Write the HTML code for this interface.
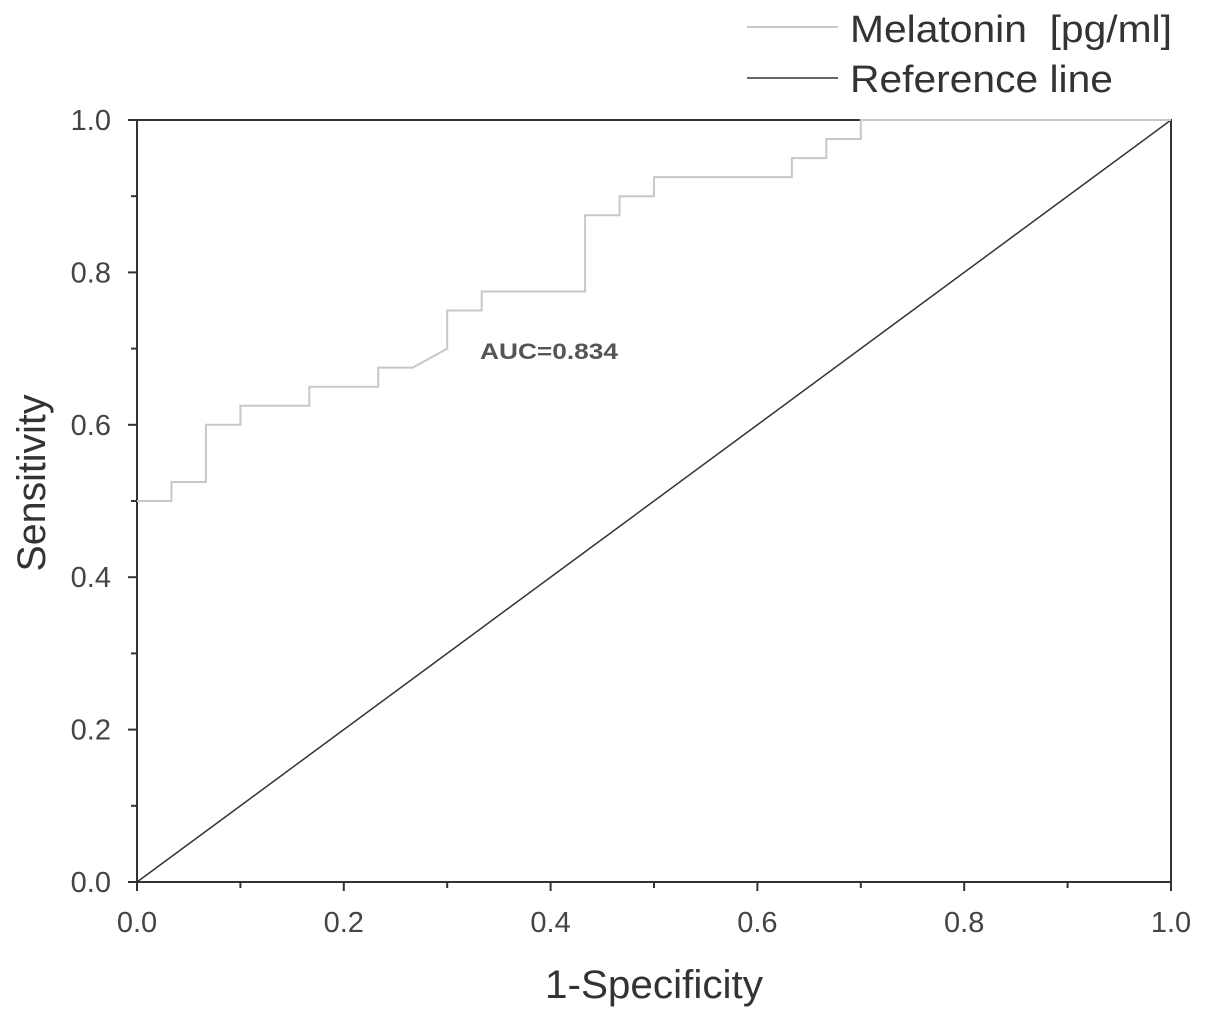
<!DOCTYPE html>
<html><head><meta charset="utf-8"><style>
body{margin:0;background:#fff;}
svg{display:block;font-family:"Liberation Sans",Arial,sans-serif;}
</style></head><body>
<svg id="chart" width="1205" height="1020">
<g id="legend">
<line x1="747" y1="27" x2="838" y2="27" stroke="#c8c8c8" stroke-width="2"/>
<text x="850" y="42" font-size="38" fill="#333" textLength="322" lengthAdjust="spacingAndGlyphs">Melatonin&#160;&#160;[pg/ml]</text>
<line x1="747" y1="78" x2="838" y2="78" stroke="#333" stroke-width="1.5"/>
<text x="850" y="92" font-size="38" fill="#333" textLength="263" lengthAdjust="spacingAndGlyphs">Reference line</text>
</g>
<g id="plot"></g>
<text x="549" y="359" font-size="22" font-weight="bold" fill="#555" text-anchor="middle" textLength="138" lengthAdjust="spacingAndGlyphs">AUC=0.834</text>
<text x="654" y="998" font-size="40" fill="#333" text-anchor="middle" textLength="218" lengthAdjust="spacingAndGlyphs">1-Specificity</text>
<text transform="translate(45,483) rotate(-90)" font-size="40" fill="#333" text-anchor="middle" textLength="177" lengthAdjust="spacingAndGlyphs">Sensitivity</text>
</svg>
<script>
const fprValues=[0,1/30,1/30,2/30,2/30,3/30,3/30,5/30,5/30,7/30,7/30,8/30,9/30,9/30,10/30,10/30,13/30,13/30,14/30,14/30,15/30,15/30,19/30,19/30,20/30,20/30,21/30,21/30,1];
const tprValues=[0.5,0.5,0.525,0.525,0.6,0.6,0.625,0.625,0.65,0.65,0.675,0.675,0.7,0.75,0.75,0.775,0.775,0.875,0.875,0.9,0.9,0.925,0.925,0.95,0.95,0.975,0.975,1,1];
const refX=[0,1];
const refY=[0,1];
const tickLabels=["0.0","0.2","0.4","0.6","0.8","1.0"];
const ns="http://www.w3.org/2000/svg";
const X0=137,X1=1171,Y0=882,Y1=120;
function sx(v){return X0+(X1-X0)*v;}
function sy(v){return Y0-(Y0-Y1)*v;}
const g=document.getElementById('plot');
function mk(t,a){const e=document.createElementNS(ns,t);for(const k in a)e.setAttribute(k,a[k]);g.appendChild(e);return e;}
let fr=mk('rect',{x:X0,y:Y1,width:X1-X0,height:Y0-Y1,fill:'none',stroke:'#333','stroke-width':2});


for(let i=0;i<=10;i++){
  const v=i/10,len=i%2===0?9:6;
  let tx=mk('line',{x1:sx(v),y1:Y0,x2:sx(v),y2:Y0+len,stroke:'#333','stroke-width':2});
  
  
  let ty=mk('line',{x1:X0,y1:sy(v),x2:X0-len,y2:sy(v),stroke:'#333','stroke-width':2});
  
  
}
tickLabels.forEach((s,i)=>{
  const v=parseFloat(s);
  let a=mk('text',{x:sx(v),y:Y0+50,'font-size':29,fill:'#444','text-anchor':'middle'});a.textContent=s;
  
  
  let b=mk('text',{x:X0-26,y:sy(v)+10,'font-size':29,fill:'#444','text-anchor':'end'});b.textContent=s;
  
  
});
let r=mk('polyline',{points:refX.map((x,i)=>sx(x)+','+sy(refY[i])).join(' '),fill:'none',stroke:'#333','stroke-width':1.5});


let c=mk('polyline',{points:fprValues.map((x,i)=>sx(x)+','+sy(tprValues[i])).join(' '),fill:'none',stroke:'#c8c8c8','stroke-width':2});


</script>
</body></html>
